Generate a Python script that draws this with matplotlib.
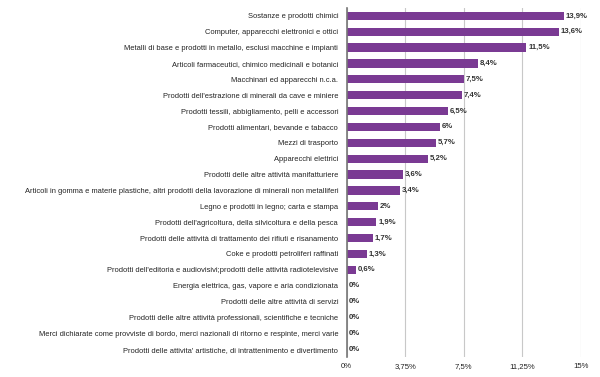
import numpy as np
import matplotlib.pyplot as plt

# data (values in %)
categories = [
    "Sostanze e prodotti chimici",
    "Computer, apparecchi elettronici e ottici",
    "Metalli di base e prodotti in metallo, esclusi macchine e impianti",
    "Articoli farmaceutici, chimico medicinali e botanici",
    "Macchinari ed apparecchi n.c.a.",
    "Prodotti dell'estrazione di minerali da cave e miniere",
    "Prodotti tessili, abbigliamento, pelli e accessori",
    "Prodotti alimentari, bevande e tabacco",
    "Mezzi di trasporto",
    "Apparecchi elettrici",
    "Prodotti delle altre attività manifatturiere",
    "Articoli in gomma e materie plastiche, altri prodotti della lavorazione di minerali non metalliferi",
    "Legno e prodotti in legno; carta e stampa",
    "Prodotti dell'agricoltura, della silvicoltura e della pesca",
    "Prodotti delle attività di trattamento dei rifiuti e risanamento",
    "Coke e prodotti petroliferi raffinati",
    "Prodotti dell'editoria e audiovisivi;prodotti delle attività radiotelevisive",
    "Energia elettrica, gas, vapore e aria condizionata",
    "Prodotti delle altre attività di servizi",
    "Prodotti delle altre attività professionali, scientifiche e tecniche",
    "Merci dichiarate come provviste di bordo, merci nazionali di ritorno e respinte, merci varie",
    "Prodotti delle attivita' artistiche, di intrattenimento e divertimento",
]
values = [13.9, 13.6, 11.5, 8.4, 7.5, 7.4, 6.5, 6.0, 5.7, 5.2, 3.6, 3.4,
          2.0, 1.9, 1.7, 1.3, 0.6, 0, 0, 0, 0, 0]
value_labels = ["13,9%", "13,6%", "11,5%", "8,4%", "7,5%", "7,4%", "6,5%", "6%",
                "5,7%", "5,2%", "3,6%", "3,4%", "2%", "1,9%", "1,7%", "1,3%",
                "0,6%", "0%", "0%", "0%", "0%", "0%"]
xticks = [0, 3.75, 7.5, 11.25, 15]
xtick_labels = ["0%", "3,75%", "7,5%", "11,25%", "15%"]

plt.rcParams['font.family'] = ['Liberation Sans', 'DejaVu Sans']

fig = plt.figure(figsize=(6, 3.77), dpi=100)
ax = fig.add_axes([0.5775, 0.053, 0.3908, 0.926])

y = np.arange(len(categories))
ax.barh(y, values, height=0.52, color="#7a3a93", zorder=3)

# value labels next to each bar
for yi, v, lab in zip(y, values, value_labels):
    ax.text(v + 0.12, yi, lab, va="center", ha="left", fontsize=5.6,
            fontweight="bold", color="#333333", zorder=4)

ax.set_ylim(len(categories) - 0.5, -0.5)
ax.set_xlim(0, 15)
ax.set_yticks(y)
ax.set_yticklabels(categories, fontsize=5.4, color="#222222")
ax.set_xticks(xticks)
ax.set_xticklabels(xtick_labels, fontsize=5.6, color="#222222", va="baseline")
ax.tick_params(axis="both", length=0)
ax.tick_params(axis="y", pad=6)
ax.tick_params(axis="x", pad=8)

ax.grid(axis="x", color="#c8c8c8", linewidth=0.8, zorder=0)
for s in ["top", "right", "bottom"]:
    ax.spines[s].set_visible(False)
ax.spines["left"].set_color("#777777")
ax.spines["left"].set_linewidth(1.2)
ax.spines["left"].set_zorder(5)

fig.savefig("out.png", dpi=100)
